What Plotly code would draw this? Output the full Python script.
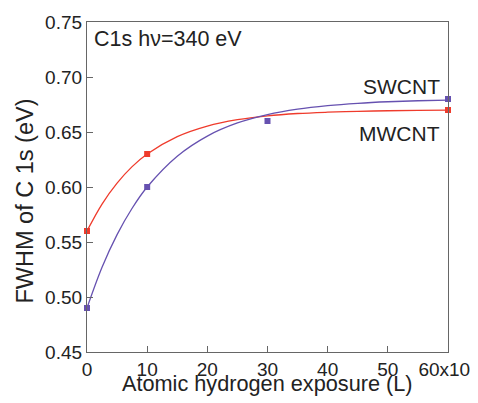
import plotly.graph_objects as go

# measured data points (exposure in units of 10^3 L, FWHM in eV)
mw_x = [0, 10, 60]
mw_y = [0.56, 0.63, 0.67]
sw_x = [0, 10, 30, 60]
sw_y = [0.49, 0.60, 0.66, 0.68]

# fitted curves
curve_x = [0, 2.5, 5, 7.5, 10, 15, 20, 25, 30, 35, 40, 45, 50, 55, 60]
mw_curve = [0.560, 0.5845, 0.6035, 0.6185, 0.630, 0.6458, 0.6554, 0.6612, 0.6647,
            0.6668, 0.668, 0.6688, 0.6693, 0.6696, 0.6698]
sw_curve = [0.490, 0.527, 0.5567, 0.5807, 0.600, 0.628, 0.6463, 0.6582, 0.6658,
            0.6708, 0.674, 0.6761, 0.6775, 0.6784, 0.679]

x_ticks = [0, 10, 20, 30, 40, 50, 60]
x_ticktext = ["0", "10", "20", "30", "40", "50", "60x10<sup>3</sup>"]
y_ticks = [0.45, 0.50, 0.55, 0.60, 0.65, 0.70, 0.75]

RED = "#ef3b2c"
PURPLE = "#6651b0"
FONT = "Liberation Sans, Arial, sans-serif"
TXT = "#222222"

fig = go.Figure()
fig.add_trace(go.Scatter(x=curve_x, y=mw_curve, mode="lines", line=dict(color=RED, width=1.3, shape="spline"),
                         showlegend=False, hoverinfo="skip"))
fig.add_trace(go.Scatter(x=curve_x, y=sw_curve, mode="lines", line=dict(color=PURPLE, width=1.3, shape="spline"),
                         showlegend=False, hoverinfo="skip"))
fig.add_trace(go.Scatter(x=mw_x, y=mw_y, mode="markers", marker=dict(symbol="square", size=6, color=RED),
                         cliponaxis=False, showlegend=False, name="MWCNT"))
fig.add_trace(go.Scatter(x=sw_x, y=sw_y, mode="markers", marker=dict(symbol="square", size=6, color=PURPLE),
                         cliponaxis=False, showlegend=False, name="SWCNT"))

axis_common = dict(showgrid=False, zeroline=False, showline=True, mirror=True, linecolor="#666666", linewidth=1.2,
                   ticks="inside", ticklen=6, tickcolor="#666666", tickwidth=1, automargin=False,
                   tickfont=dict(family=FONT, size=19, color=TXT))

fig.update_xaxes(range=[0, 60], tickvals=x_ticks, ticktext=x_ticktext, **axis_common)
fig.update_yaxes(range=[0.45, 0.75], tickvals=y_ticks, tickformat=".2f", **axis_common)

# axis titles
fig.add_annotation(x=0.5, y=0, xref="paper", yref="paper", xanchor="center", yanchor="middle", yshift=-31,
                   text="Atomic hydrogen exposure (L)", showarrow=False, font=dict(family=FONT, size=21.7, color=TXT))
fig.add_annotation(x=0, y=0.456, xref="paper", yref="paper", xanchor="center", yanchor="middle", xshift=-62,
                   textangle=-90, text="FWHM of C 1s (eV)", showarrow=False, font=dict(family=FONT, size=23.5, color=TXT))

fig.add_annotation(x=0, y=1, xref="paper", yref="paper", xanchor="left", yanchor="top", xshift=5, yshift=-3,
                   text="C1s h\u03bd=340 eV", showarrow=False, font=dict(family=FONT, size=21.5, color=TXT))
fig.add_annotation(x=1, y=0.806, xref="paper", yref="paper", xanchor="right", yanchor="middle", xshift=-6,
                   text="SWCNT", showarrow=False, font=dict(family=FONT, size=21, color=TXT))
fig.add_annotation(x=1, y=0.661, xref="paper", yref="paper", xanchor="right", yanchor="middle", xshift=-6,
                   text="MWCNT", showarrow=False, font=dict(family=FONT, size=21, color=TXT))

fig.update_layout(width=478, height=395, margin=dict(l=79, r=38, t=14, b=51),
                  paper_bgcolor="white", plot_bgcolor="white", showlegend=False)

fig.write_html("out.html")
